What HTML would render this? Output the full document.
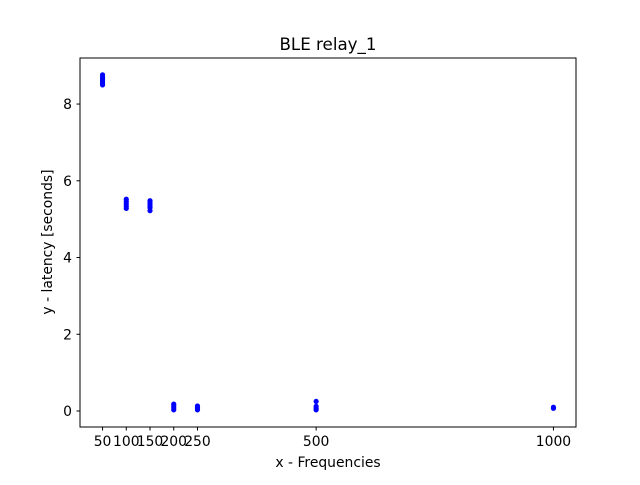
<!DOCTYPE html>
<html><head><meta charset="utf-8"><style>
body{margin:0;background:#fff;font-family:"Liberation Sans","DejaVu Sans",sans-serif}
svg text{font-family:"DejaVu Sans","Liberation Sans",sans-serif;font-size:13.9px;fill:#000}
</style></head><body>
<svg id="chart" width="640" height="480">
<rect x="0" y="0" width="640" height="480" fill="#fff"/>
<text x="328" y="50" text-anchor="middle" style="font-size:16.7px">BLE relay_1</text>
<g id="plot"></g>
<rect x="80" y="58" width="496" height="369" fill="none" stroke="#000" stroke-width="1"/>
<text x="328" y="467" text-anchor="middle">x - Frequencies</text>
<text transform="translate(52,242) rotate(-90)" text-anchor="middle">y - latency [seconds]</text>
</svg>
<script>
const xTicks=[50,100,150,200,250,500,1000];
const yTicks=[0,2,4,6,8];
const xValues=[50,50,50,50,50,50,100,100,100,100,100,150,150,150,150,150,200,200,200,200,250,250,250,250,500,500,500,500,1000,1000];
const yValues=[8.5,8.55,8.6,8.65,8.7,8.76,5.28,5.34,5.4,5.46,5.52,5.22,5.3,5.36,5.42,5.48,0.03,0.08,0.13,0.18,0.03,0.07,0.1,0.13,0.03,0.07,0.12,0.25,0.07,0.1];
const X0=2.5,X1=1047.5,Y0=-0.417,Y1=9.2;
const sx=v=>80+(v-X0)/(X1-X0)*496;
const sy=v=>427-(v-Y0)/(Y1-Y0)*369;
const NS="http://www.w3.org/2000/svg";
const svg=document.getElementById('chart'),g=document.getElementById('plot');
function mk(t,a){const e=document.createElementNS(NS,t);for(const k in a)e.setAttribute(k,a[k]);return e;}
xValues.forEach((x,i)=>{
 const c=mk('circle',{cx:sx(x),cy:sy(yValues[i]),r:2.6,fill:'#0000ff'});
 
 
 g.appendChild(c);
});
xTicks.forEach(t=>{
 const l=mk('line',{x1:sx(t),x2:sx(t),y1:427,y2:430.5,stroke:'#000'});
 
 
 svg.appendChild(l);
 const tx=mk('text',{x:sx(t),y:446,'text-anchor':'middle'});
 tx.textContent=t;
 
 
 svg.appendChild(tx);
});
yTicks.forEach(t=>{
 const l=mk('line',{x1:76.5,x2:80,y1:sy(t),y2:sy(t),stroke:'#000'});
 
 
 svg.appendChild(l);
 const tx=mk('text',{x:72,y:sy(t)+5,'text-anchor':'end'});
 tx.textContent=t;
 
 
 svg.appendChild(tx);
});
</script>
</body></html>
